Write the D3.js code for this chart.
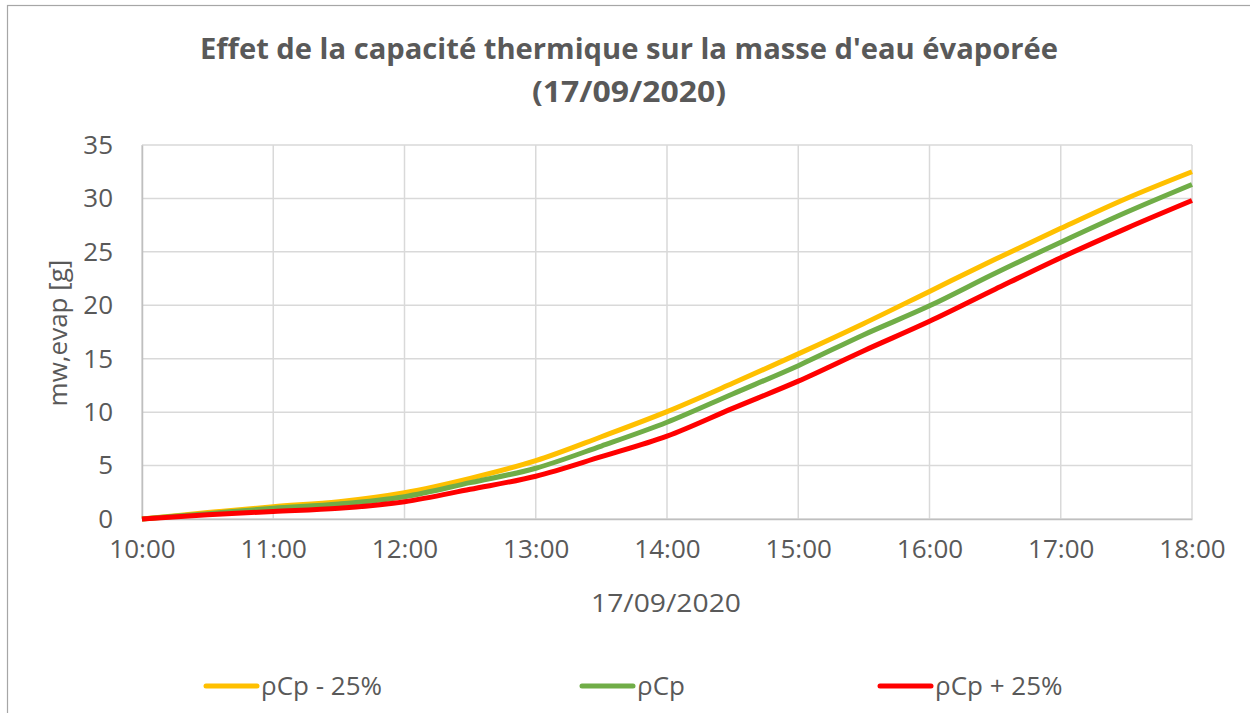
<!DOCTYPE html>
<html>
<head>
<meta charset="utf-8">
<script src="https://cdn.jsdelivr.net/npm/d3@7"></script>
<style>
  html, body { margin: 0; padding: 0; background: #ffffff; }
  svg { display: block; }
  text { font-family: "Open Sans", "Noto Sans", sans-serif; fill: #595959; }
</style>
</head>
<body>
<svg id="chart" width="1250" height="713"></svg>
<script>
// ---------- data ----------
const chartDate = "17/09/2020";
const times = ["10:00","10:30","11:00","11:30","12:00","12:30","13:00","13:30","14:00",
               "14:30","15:00","15:30","16:00","16:30","17:00","17:30","18:00"];
const seriesNames = ["ρCp - 25%", "ρCp", "ρCp + 25%"];
const seriesColors = ["#FFC000", "#70AD47", "#FF0000"];
const valuesMinus25 = [0, 0.6, 1.15, 1.62, 2.46, 3.8, 5.46, 7.7, 10.05, 12.7, 15.45, 18.3, 21.3, 24.3, 27.2, 30.0, 32.5];
const valuesBase    = [0, 0.5, 1.0, 1.4, 2.09, 3.4, 4.75, 6.83, 9.05, 11.7, 14.35, 17.25, 19.95, 23.0, 25.9, 28.7, 31.3];
const valuesPlus25  = [0, 0.4, 0.7, 1.0, 1.62, 2.78, 4.0, 5.83, 7.75, 10.35, 12.9, 15.75, 18.5, 21.5, 24.45, 27.2, 29.8];
const xTickLabels = ["10:00","11:00","12:00","13:00","14:00","15:00","16:00","17:00","18:00"];
const yTicks = [0, 5, 10, 15, 20, 25, 30, 35];
const titleLines = ["Effet de la capacité thermique sur la masse d'eau évaporée", "(" + chartDate + ")"];
const xAxisTitle = chartDate;
const yAxisTitle = "mw,evap [g]";

// ---------- layout ----------
const svg = d3.select("#chart");
const plot = { left: 142, right: 1192, top: 145, bottom: 519 };
const parse = d3.timeParse("%d/%m/%Y %H:%M");

const x = d3.scaleTime()
  .domain([parse(chartDate + " " + xTickLabels[0]), parse(chartDate + " " + xTickLabels[xTickLabels.length - 1])])
  .range([plot.left, plot.right]);
const y = d3.scaleLinear()
  .domain([yTicks[0], yTicks[yTicks.length - 1]])
  .range([plot.bottom, plot.top]);

// outer border (partially visible, as in the screenshot)
svg.append("rect")
  .attr("x", 7.5).attr("y", 5.5).attr("width", 1400).attr("height", 900)
  .attr("fill", "none").attr("stroke", "#a6a6a6").attr("stroke-width", 1.2);

// title
const titleWidths = [858, 194];
const titleBaselines = [59, 102];
titleLines.forEach((t, i) => {
  svg.append("text").attr("x", 629).attr("y", titleBaselines[i]).attr("text-anchor", "middle")
    .attr("textLength", titleWidths[i]).attr("lengthAdjust", "spacingAndGlyphs")
    .style("font-size", "28px").style("font-weight", "bold").text(t);
});

// gridlines
const xTickDates = xTickLabels.map(t => parse(chartDate + " " + t));
svg.append("g").selectAll("line").data(yTicks).join("line")
  .attr("x1", plot.left).attr("x2", plot.right)
  .attr("y1", d => y(d)).attr("y2", d => y(d))
  .attr("stroke", "#d9d9d9").attr("stroke-width", 1.5);
svg.append("g").selectAll("line").data(xTickDates).join("line")
  .attr("x1", d => x(d)).attr("x2", d => x(d))
  .attr("y1", plot.top).attr("y2", plot.bottom)
  .attr("stroke", "#d9d9d9").attr("stroke-width", 1.5);

// axes
const xAxis = d3.axisBottom(x).tickValues(xTickDates).tickFormat(d3.timeFormat("%H:%M")).tickSize(0).tickPadding(21);
const gx = svg.append("g").attr("transform", `translate(0,${plot.bottom})`).call(xAxis);
gx.select(".domain").attr("stroke", "#bfbfbf").attr("stroke-width", 1.5);
gx.selectAll("text").style("font-size", "26px").style("font-family", "'Open Sans', sans-serif").attr("fill", "#595959");

const yAxis = d3.axisLeft(y).tickValues(yTicks).tickSize(0).tickPadding(29);
const gy = svg.append("g").attr("transform", `translate(${plot.left},0)`).call(yAxis);
gy.select(".domain").attr("stroke", "#bfbfbf").attr("stroke-width", 1.5);
gy.selectAll("text").style("font-size", "26px").style("font-family", "'Open Sans', sans-serif").attr("fill", "#595959");

// axis titles
svg.append("text").attr("x", 666).attr("y", 612).attr("text-anchor", "middle")
  .style("font-size", "26px").attr("textLength", 150).attr("lengthAdjust", "spacingAndGlyphs").text(xAxisTitle);
svg.append("text").attr("transform", `translate(67,${(plot.top + plot.bottom) / 2 + 1}) rotate(-90)`)
  .attr("text-anchor", "middle").style("font-size", "26px").text(yAxisTitle);

// lines
const allSeries = [valuesMinus25, valuesBase, valuesPlus25];
const line = d3.line()
  .x((d, i) => x(parse(chartDate + " " + times[i])))
  .y(d => y(d))
  .curve(d3.curveCatmullRom.alpha(0.5));
svg.append("g").selectAll("path").data(allSeries).join("path")
  .attr("d", d => line(d))
  .attr("fill", "none")
  .attr("stroke", (d, i) => seriesColors[i])
  .attr("stroke-width", 5)
  .attr("stroke-linejoin", "round");

// legend
const legendX = [206, 582, 880];
const lg = svg.append("g").selectAll("g").data(seriesNames).join("g")
  .attr("transform", (d, i) => `translate(${legendX[i]},686)`);
lg.append("line").attr("x1", 0).attr("x2", 51).attr("y1", 0).attr("y2", 0)
  .attr("stroke", (d, i) => seriesColors[i]).attr("stroke-width", 5).attr("stroke-linecap", "round");
lg.append("text").attr("x", 55).attr("y", 9).style("font-size", "26px").text(d => d);
</script>
</body>
</html>
